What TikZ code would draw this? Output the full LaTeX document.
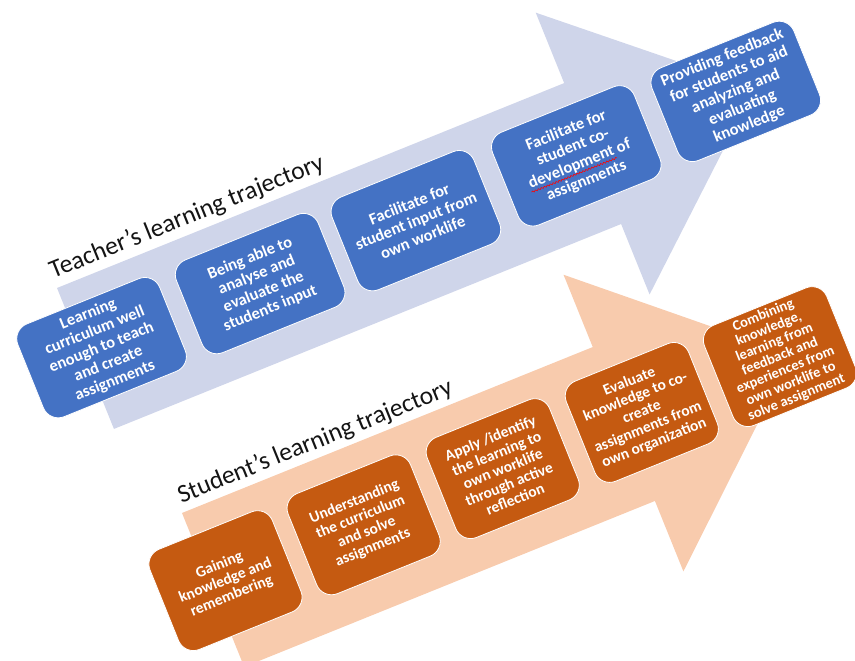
\documentclass[tikz,border=0pt]{standalone}
\usepackage{fontspec}
\setmainfont{Carlito}
\usetikzlibrary{decorations.pathmorphing}
\definecolor{teacherblue}{RGB}{68,114,196}
\definecolor{teacherband}{RGB}{207,213,234}
\definecolor{studentorange}{RGB}{197,90,17}
\definecolor{studentband}{RGB}{248,203,173}
\definecolor{labelgrey}{RGB}{20,20,20}

\tikzset{
    tbox/.style={fill=teacherblue, draw=white, line width=0.8pt, rounded corners=16pt,
        minimum width=153pt, minimum height=100pt, inner sep=2pt, text=white, align=center,
        font=\fontsize{16.5}{18}\selectfont\bfseries},
    sbox/.style={fill=studentorange, draw=white, line width=0.8pt, rounded corners=16pt,
        minimum width=132pt, minimum height=108pt, inner sep=2pt, text=white, align=center,
        font=\fontsize{15.5}{16.5}\selectfont\bfseries},
    trajlabel/.style={anchor=base west, inner sep=0pt, text=labelgrey,
        font=\fontsize{25.5}{30}\selectfont},
    spellmark/.style={red, line width=0.6pt, decorate,
        decoration={snake, amplitude=0.8pt, segment length=3.2pt}}
}

\begin{document}
\begin{tikzpicture}[x=1pt, y=1pt]

    \useasboundingbox (0,0) rectangle (855,-661);

    % 1. 教师的学习轨迹：浅蓝色箭头 + 五个蓝色方块
    \begin{scope}[shift={(57,-288)}, rotate=22, transform shape]
        \fill[teacherband] (0,0) -- (547,0) -- (547,76) -- (722,-76)
            -- (547,-228) -- (547,-152) -- (0,-152) -- cycle;

        \node (tlabel) at (0,10) [trajlabel] {Teacher’s learning trajectory};

        \node (t1) at (19,-72) [tbox] {Learning\\curriculum well\\enough to teach\\and create\\assignments};
        \node (t2) at (190,-72) [tbox] {Being able to\\analyse and\\evaluate the\\students input};
        \node (t3) at (358,-72) [tbox] {Facilitate for\\student input from\\own worklife};
        \node (t4) at (531,-72) [tbox] {Facilitate for\\student co-\\development of\\assignments};
        \node (t5) at (703,-72) [tbox] {Providing feedback\\for students to aid\\analyzing and\\evaluating\\knowledge};

        % "development" 下面的红色波浪线
        \coordinate (devL) at (476,-89);
        \coordinate (devR) at (568,-89);
        \draw[spellmark] (devL) -- (devR);
    \end{scope}

    % 2. 学生的学习轨迹：浅橙色箭头 + 五个橙色方块
    \begin{scope}[shift={(182,-513)}, rotate=22, transform shape]
        \fill[studentband] (0,0) -- (443,0) -- (443,78) -- (625,-82)
            -- (443,-242) -- (443,-166) -- (0,-166) -- cycle;

        \node (slabel) at (3,9) [trajlabel] {Student’s learning trajectory};

        \node (s1) at (15,-79) [sbox] {Gaining\\knowledge and\\remembering};
        \node (s2) at (164,-79) [sbox] {Understanding\\the curriculum\\and solve\\assignments};
        \node (s3) at (314,-79) [sbox] {Apply /identify\\the learning to\\own worklife\\through active\\reflection};
        \node (s4) at (464,-79) [sbox] {Evaluate\\knowledge to co-\\create\\assignments from\\own organization};
        \node (s5) at (613,-79) [sbox, font=\fontsize{14.5}{14.8}\selectfont\bfseries] {Combining\\knowledge,\\learning from\\feedback and\\experiences from\\own worklife to\\solve assignment};
    \end{scope}

\end{tikzpicture}
\end{document}
